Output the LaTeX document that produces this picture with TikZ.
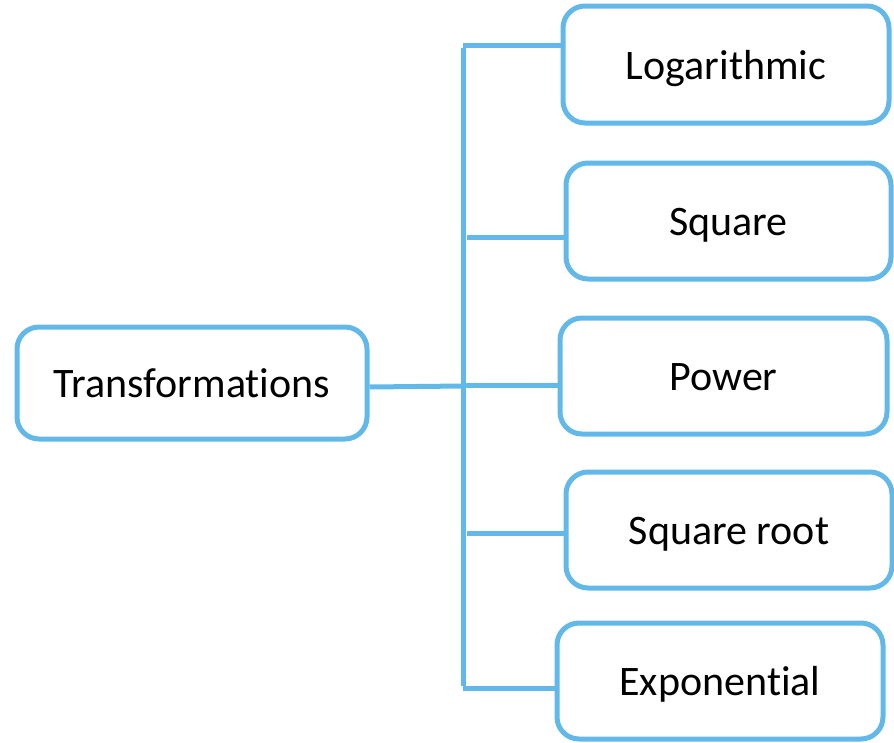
\documentclass[tikz,border=0pt]{standalone}
\usepackage{fontspec}
\setmainfont[Ligatures=NoCommon]{Carlito}
\definecolor{treeblue}{HTML}{62B9E9}
\begin{document}
\begin{tikzpicture}[x=1pt,y=-1pt,
  box/.style={draw=treeblue, line width=5pt, rounded corners=22pt, inner sep=0pt,
    text height=38pt, text depth=9pt,
    font=\fontsize{42}{50}\selectfont, text=black},
  link/.style={draw=treeblue, line width=5pt}]
\useasboundingbox (0,0) rectangle (894,742);

% root and leaves
\node[box, minimum width=350pt, minimum height=112pt] (root) at (192,383) {Transformations};
\node[box, minimum width=326pt, minimum height=117pt] (log) at (726,64.5) {Logarithmic};
\node[box, minimum width=325pt, minimum height=116pt] (sq) at (728.5,221) {Square};
\node[box, minimum width=327pt, minimum height=116pt] (pow) at (723.5,376) {Power};
\node[box, minimum width=326pt, minimum height=116pt] (sqrt) at (729,530) {Square root};
\node[box, minimum width=326pt, minimum height=116pt] (exp) at (720,681) {Exponential};

% trunk of the tree
\coordinate (top) at (463,45);
\coordinate (bot) at (463,688);
\coordinate (mid) at (463,386);
\coordinate (b2) at (467,237);
\coordinate (b3) at (463,385);
\coordinate (b4) at (467,533);

\draw[link] ([yshift=-2.5pt]top) -- ([yshift=2.5pt]bot);
\draw[link] (root.east |- 0,387) -- (mid);
\draw[link] (top) -- (top -| log.west);
\draw[link] (b2) -- (b2 -| sq.west);
\draw[link] (b3) -- (b3 -| pow.west);
\draw[link] (b4) -- (b4 -| sqrt.west);
\draw[link] (bot) -- (bot -| exp.west);
\end{tikzpicture}
\end{document}
